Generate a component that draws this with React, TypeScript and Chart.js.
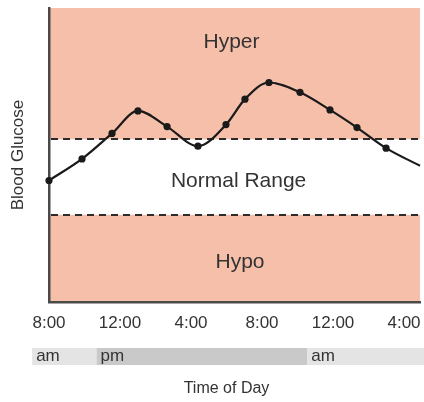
import React, { useEffect, useRef } from "react";
import { Chart, registerables } from "chart.js";

Chart.register(...registerables);

// ---- data ----
const hours = [0, 1.86, 3.55, 5.01, 6.65, 8.39, 9.97, 11.04, 12.39, 14.14, 15.83, 17.35, 18.99, 20.9];
const glucose = [124, 146, 172, 195, 179, 159, 181, 207, 224, 214, 196, 178, 157, 139];
const tickHours = [0, 4, 8, 12, 16, 20];
const tickLabels = ["8:00", "12:00", "4:00", "8:00", "12:00", "4:00"];
const hyperThreshold = 166;
const hypoThreshold = 89;
const zoneLabels = ["Hyper", "Normal Range", "Hypo"];
const zoneHours = [10.28, 10.68, 10.76];
const zoneValues = [265, 123.5, 41];
const periodLabels = ["am", "pm", "am"];
const periodStarts = [-0.95, 2.68, 14.55];
const periodEnd = 21.2;
const xMax = 20.9;
const yMin = 0;
const yMax = 300;

const FONT = "'Liberation Sans', Arial, Helvetica, sans-serif";
const TEXT = "#333333";

const overlay = {
  id: "overlay",
  beforeDraw(chart: any) {
    const { ctx, chartArea: a, scales } = chart;
    const y = scales.y;
    const yHi = y.getPixelForValue(hyperThreshold);
    const yLo = y.getPixelForValue(hypoThreshold);
    ctx.save();
    ctx.fillStyle = "#f6bfa9";
    ctx.fillRect(a.left, a.top, a.right - a.left, yHi - a.top);
    ctx.fillRect(a.left, yLo, a.right - a.left, a.bottom - yLo);
    ctx.restore();
  },
  beforeDatasetsDraw(chart: any) {
    const { ctx, chartArea: a, scales } = chart;
    const { x, y } = scales;
    ctx.save();
    ctx.strokeStyle = "#2b2b2b";
    ctx.lineWidth = 2;
    ctx.setLineDash([7, 5]);
    [hyperThreshold, hypoThreshold].forEach((v) => {
      const py = Math.round(y.getPixelForValue(v));
      ctx.beginPath();
      ctx.moveTo(a.left + 2, py);
      ctx.lineTo(a.right, py);
      ctx.stroke();
    });
    ctx.setLineDash([]);
    ctx.fillStyle = TEXT;
    ctx.font = `21px ${FONT}`;
    ctx.textAlign = "center";
    ctx.textBaseline = "middle";
    zoneLabels.forEach((t, i) => {
      ctx.fillText(t, x.getPixelForValue(zoneHours[i]), y.getPixelForValue(zoneValues[i]));
    });
    ctx.restore();
  },
  afterDraw(chart: any) {
    const { ctx, chartArea: a, scales, width } = chart;
    const x = scales.x;
    ctx.save();
    const barTop = a.bottom + 46;
    const barH = 17;
    periodLabels.forEach((t, i) => {
      const x0 = x.getPixelForValue(periodStarts[i]);
      const x1 =
        i + 1 < periodStarts.length
          ? x.getPixelForValue(periodStarts[i + 1])
          : Math.min(width, x.getPixelForValue(periodEnd));
      ctx.fillStyle = t === "pm" ? "#c9c9c9" : "#e4e4e4";
      ctx.fillRect(x0, barTop, x1 - x0, barH);
      ctx.fillStyle = TEXT;
      ctx.font = `17px ${FONT}`;
      ctx.textAlign = "left";
      ctx.textBaseline = "middle";
      ctx.fillText(t, x0 + 4, barTop + barH / 2 - 0.5);
    });
    ctx.fillStyle = TEXT;
    ctx.font = `16px ${FONT}`;
    ctx.textAlign = "center";
    ctx.textBaseline = "middle";
    ctx.fillText("Time of Day", x.getPixelForValue(10), a.bottom + 87);
    ctx.restore();
  },
};

export default function App() {
  const ref = useRef<HTMLCanvasElement | null>(null);
  useEffect(() => {
    if (!ref.current) return;
    const chart = new Chart(ref.current, {
      type: "line",
      data: {
        datasets: [
          {
            data: hours.map((h, i) => ({ x: h, y: glucose[i] })),
            borderColor: "#1a1a1a",
            borderWidth: 2.2,
            backgroundColor: "#1a1a1a",
            pointBackgroundColor: "#1a1a1a",
            pointBorderWidth: 0,
            pointRadius: hours.map((_, i) => (i === hours.length - 1 ? 0 : 3.6)),
            cubicInterpolationMode: "monotone",
            fill: false,
            clip: false as any,
          },
        ],
      },
      options: {
        animation: false,
        responsive: false,
        maintainAspectRatio: false,
        layout: { padding: { top: 8, right: 4, left: 0, bottom: 0 } },
        plugins: { legend: { display: false }, tooltip: { enabled: false } },
        scales: {
          x: {
            type: "linear",
            min: 0,
            max: xMax,
            grid: { display: false, drawTicks: false },
            border: { display: true, color: "#4a4a4a", width: 2.5 },
            afterBuildTicks: (s: any) => {
              s.ticks = tickHours.map((v) => ({ value: v }));
            },
            afterFit: (s: any) => {
              s.height = 100;
              s.paddingLeft = 0;
              s.paddingRight = 0;
            },
            ticks: {
              padding: 11,
              maxRotation: 0,
              autoSkip: false,
              color: TEXT,
              font: { size: 17, family: FONT },
              callback: (v: any) => {
                const i = tickHours.indexOf(Number(v));
                return i >= 0 ? tickLabels[i] : "";
              },
            },
          },
          y: {
            type: "linear",
            min: yMin,
            max: yMax,
            grid: { display: false, drawTicks: false },
            border: { display: true, color: "#4a4a4a", width: 2.5 },
            ticks: { display: false },
            afterFit: (s: any) => {
              s.width = 49;
              s.paddingTop = 0;
              s.paddingBottom = 0;
            },
            title: {
              display: true,
              text: "Blood Glucose",
              color: TEXT,
              font: { size: 17, family: FONT },
              padding: { top: 8, bottom: 0 },
            },
          },
        },
      },
      plugins: [overlay],
    });
    return () => chart.destroy();
  }, []);
  return (
    <div style={{ position: "fixed", left: 0, top: 0, width: 424, height: 402, background: "#fff" }}>
      <canvas ref={ref} width={424} height={402} style={{ width: 424, height: 402, display: "block" }} />
    </div>
  );
}
